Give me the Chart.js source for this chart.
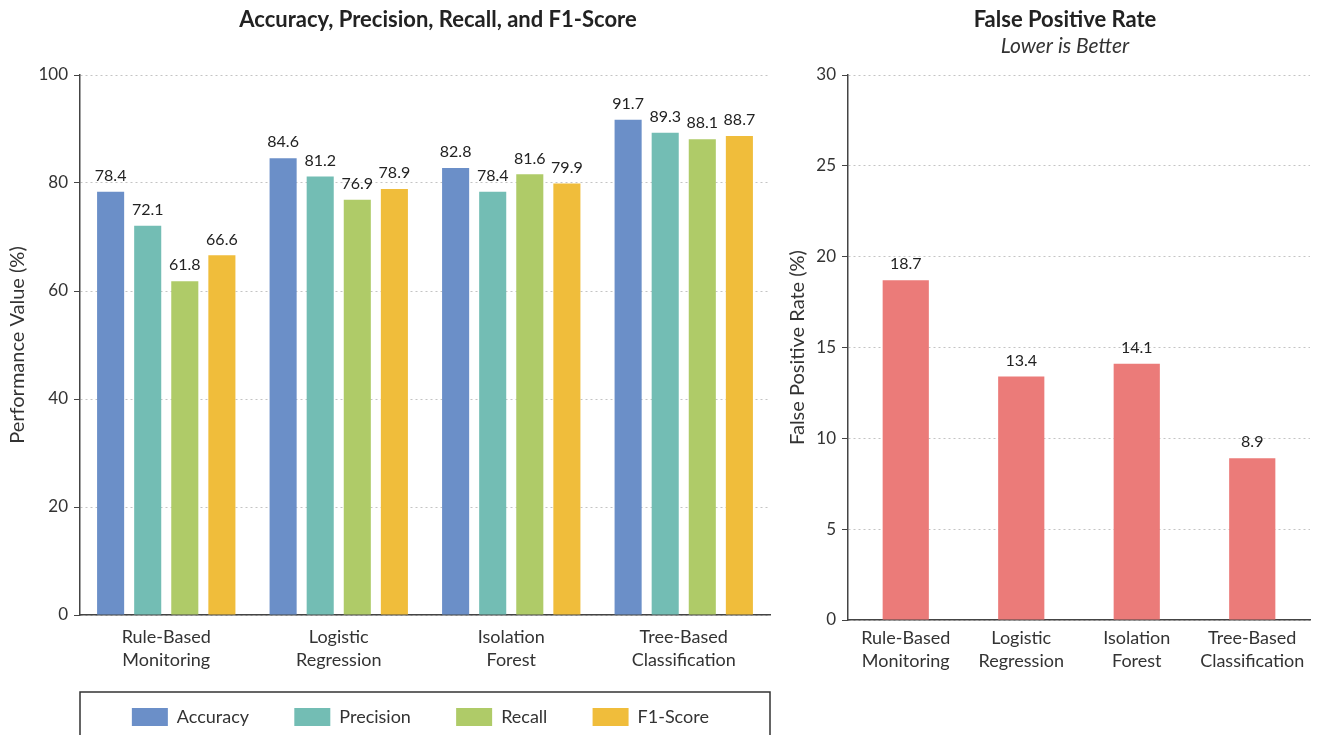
<!DOCTYPE html>
<html>
<head>
<meta charset="utf-8">
<script src="https://cdn.jsdelivr.net/npm/chart.js@4.4.0/dist/chart.umd.min.js"></script>
<style>
  html, body { margin: 0; padding: 0; background: #fff; }
  #wrap { position: relative; width: 1317px; height: 735px; overflow: hidden; }
  #left { position: absolute; left: 0; top: 0; }
  #right { position: absolute; left: 780px; top: 0; }
</style>
</head>
<body>
<div id="wrap">
  <canvas id="left" width="780" height="736"></canvas>
  <canvas id="right" width="537" height="735"></canvas>
</div>
<script>
const models = [
  ['Rule-Based', 'Monitoring'],
  ['Logistic', 'Regression'],
  ['Isolation', 'Forest'],
  ['Tree-Based', 'Classification'],
];
const metricNames = ['Accuracy', 'Precision', 'Recall', 'F1-Score'];
const accuracy = [78.4, 84.6, 82.8, 91.7];
const precision = [72.1, 81.2, 78.4, 89.3];
const recall = [61.8, 76.9, 81.6, 88.1];
const f1Score = [66.6, 78.9, 79.9, 88.7];
const falsePositiveRate = [18.7, 13.4, 14.1, 8.9];
const perfTicks = [0, 20, 40, 60, 80, 100];
const fprTicks = [0, 5, 10, 15, 20, 25, 30];

const FONT = 'Lato, "Noto Sans", sans-serif';
const metricColors = ['#6b8fc8', '#73bdb4', '#afcb68', '#f0bd3b'];
const fprColor = '#eb7b79';

Chart.defaults.font.family = FONT;
Chart.defaults.color = '#333';
Chart.defaults.animation = false;

// numbers above every bar
const barLabels = {
  id: 'barLabels',
  afterDatasetsDraw(chart) {
    const ctx = chart.ctx;
    ctx.save();
    ctx.font = '16px ' + FONT;
    ctx.fillStyle = '#222';
    ctx.textAlign = 'center';
    ctx.textBaseline = 'bottom';
    chart.data.datasets.forEach((ds, i) => {
      chart.getDatasetMeta(i).data.forEach((bar, j) => {
        ctx.fillText(ds.data[j].toFixed(1), bar.x, bar.y - 8);
      });
    });
    ctx.restore();
  }
};

// frame around the legend
const legendFrame = {
  id: 'legendFrame',
  afterDraw(chart) {
    const ctx = chart.ctx;
    const a = chart.chartArea;
    ctx.save();
    ctx.strokeStyle = '#333';
    ctx.lineWidth = 1.5;
    ctx.strokeRect(a.left, 692, a.right - a.left, 60);
    ctx.restore();
  }
};

// titles centred a little off the plot centre, as in the original figure
const headings = {
  id: 'headings',
  afterDraw(chart, args, opts) {
    const ctx = chart.ctx;
    const a = chart.chartArea;
    const cx = (a.left + a.right) / 2 + opts.shift;
    ctx.save();
    ctx.textAlign = 'center';
    ctx.textBaseline = 'middle';
    ctx.fillStyle = '#222';
    ctx.font = 'bold 22px ' + FONT;
    ctx.fillText(opts.title, cx, 20);
    if (opts.subtitle) {
      ctx.fillStyle = '#333';
      ctx.font = 'italic 21px ' + FONT;
      ctx.fillText(opts.subtitle, cx, 46);
    }
    ctx.restore();
  }
};

function yScale(max, ticks, title, width) {
  return {
    min: 0,
    max: max,
    afterBuildTicks: (s) => { s.ticks = ticks.map(v => ({ value: v })); },
    afterFit: (s) => { s.width = width; },
    ticks: { font: { size: 17 }, color: '#333', padding: 6 },
    grid: {
      color: '#c4c4c4',
      tickColor: '#444',
      tickBorderDash: [],
      tickLength: 6,
    },
    border: { display: true, color: '#444', width: 1.5, dash: [2, 3] },
    title: { display: true, text: title, font: { size: 20 }, color: '#333', padding: { top: 6, bottom: 0 } },
  };
}

function xScale(height, pad) {
  return {
    afterFit: (s) => { s.height = height; },
    grid: { display: false, tickLength: 0 },
    border: { display: true, color: '#444', width: 1.5 },
    ticks: { font: { size: 18, lineHeight: 1.3 }, color: '#333', padding: pad, maxRotation: 0 },
  };
}

new Chart(document.getElementById('left'), {
  type: 'bar',
  data: {
    labels: models,
    datasets: [accuracy, precision, recall, f1Score].map((d, i) => ({
      label: metricNames[i],
      data: d,
      backgroundColor: metricColors[i],
      categoryPercentage: 0.86,
      barPercentage: 0.73,
    })),
  },
  options: {
    responsive: false,
    layout: { padding: { left: 0, right: 10, top: 75, bottom: 0 } },
    scales: {
      x: xScale(57, 10),
      y: yScale(100, perfTicks, 'Performance Value (%)', 80),
    },
    plugins: {
      headings: { title: 'Accuracy, Precision, Recall, and F1-Score', shift: 13 },
      legend: {
        display: true,
        position: 'bottom',
        fullSize: false,
        labels: {
          boxWidth: 36,
          boxHeight: 18,
          padding: 36,
          font: { size: 18 },
          color: '#333',
          generateLabels: (chart) => Chart.defaults.plugins.legend.labels.generateLabels(chart)
            .map(item => ({ ...item, text: item.text + '  ' })),
        },
      },
      tooltip: { enabled: false },
    },
  },
  plugins: [barLabels, legendFrame, headings],
});

new Chart(document.getElementById('right'), {
  type: 'bar',
  data: {
    labels: models,
    datasets: [{
      label: 'False Positive Rate',
      data: falsePositiveRate,
      backgroundColor: fprColor,
      categoryPercentage: 1,
      barPercentage: 0.4,
    }],
  },
  options: {
    responsive: false,
    layout: { padding: { left: 0, right: 7, top: 75, bottom: 0 } },
    scales: {
      x: xScale(115, 6),
      y: yScale(30, fprTicks, 'False Positive Rate (%)', 68),
    },
    plugins: {
      headings: { title: 'False Positive Rate', subtitle: 'Lower is Better', shift: -14 },
      legend: { display: false },
      tooltip: { enabled: false },
    },
  },
  plugins: [barLabels, headings],
});
</script>
</body>
</html>
